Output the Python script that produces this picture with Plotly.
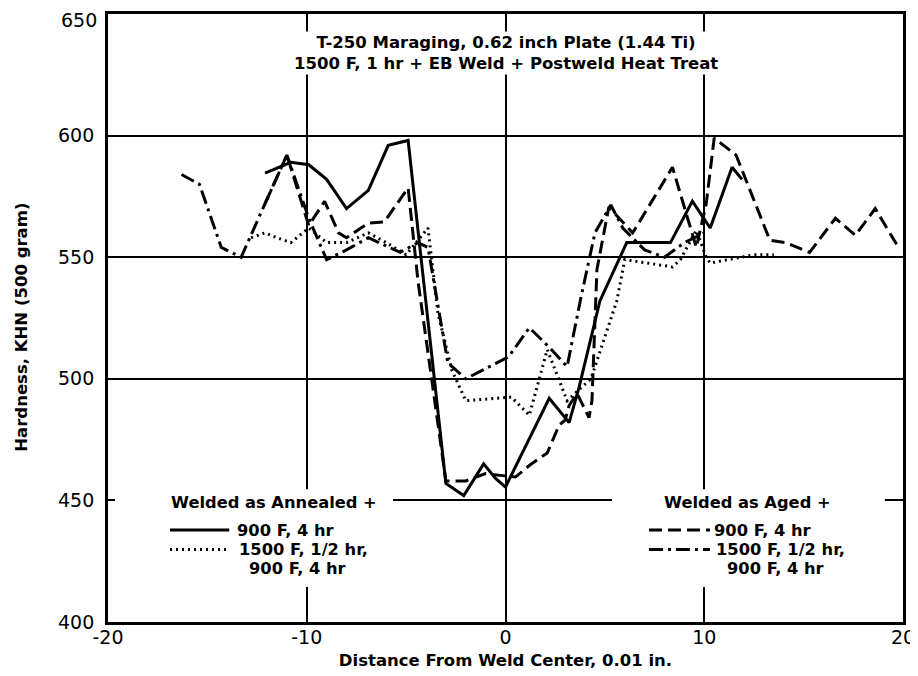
import plotly.graph_objects as go

# ---- data ----
ann900_x = [-12.1, -10.8, -9.9, -9.0, -8.0, -6.9, -5.9, -4.9, -3.0, -2.1, -1.1, -0.5, 0.0, 2.2, 3.2, 3.7, 4.75, 6.1, 8.3, 9.4, 10.3, 11.4, 11.9]
ann900_y = [584.6, 589, 588, 582, 570, 577.5, 596, 598, 457, 452, 465, 459, 455.5, 492, 482, 496.5, 532, 556, 556, 573, 562, 587, 582]

ann1500_x = [-12.8, -12.1, -11.5, -10.8, -9.9, -9.0, -8.0, -6.9, -6.0, -5.0, -3.9, -3.4, -2.7, -2.0, 0.3, 1.2, 2.1, 3.1, 4.3, 5.6, 6.0, 8.4, 8.8, 9.6, 10.1, 10.3, 12.5, 13.5]
ann1500_y = [558, 560, 558, 556, 562, 556, 556, 560, 556, 551, 562, 527, 503.6, 491, 492.5, 485, 512, 491, 500, 532, 549, 546, 549, 561, 550, 547.6, 551, 551]

aged900_x = [-12.1, -11.0, -9.9, -9.1, -8.4, -8.0, -6.9, -6.1, -4.9, -4.4, -3.0, -2.0, -1.0, 0.5, 1.3, 2.1, 2.7, 3.0, 3.2, 3.6, 4.2, 4.35, 4.6, 5.2, 6.4, 8.4, 9.2, 9.6, 10.1, 10.5, 11.6, 13.3, 14.1, 15.3, 16.6, 17.6, 18.6, 19.7]
aged900_y = [572, 592, 563, 573, 560, 558, 564, 564.5, 578.5, 540, 458, 458, 461, 459.6, 465, 469.5, 481, 483, 489, 494, 484, 491, 545, 570.6, 560, 587, 565, 554, 572, 599, 592, 557, 556, 552, 566, 559, 570, 555]

aged1500_x = [-16.3, -15.4, -14.3, -13.3, -12.1, -11.0, -9.9, -9.0, -8.0, -6.9, -5.3, -4.4, -3.9, -2.9, -2.0, 0.15, 1.2, 2.2, 3.1, 3.8, 4.5, 5.3, 5.9, 7.0, 8.0, 9.0, 10.0]
aged1500_y = [584, 580, 554, 550, 572, 592, 566, 549, 553, 558, 552, 556, 554, 506.5, 500, 509, 521, 513, 505, 533.6, 560, 571.5, 562, 553, 550, 556, 560]

x_ticks = [-20, -10, 0, 10, 20]
y_ticks = [400, 450, 500, 550, 600, 650]

title_lines = ["T-250 Maraging, 0.62 inch Plate (1.44 Ti)", "1500 F, 1 hr + EB Weld + Postweld Heat Treat"]
x_title = "Distance From Weld Center, 0.01 in."
y_title = "Hardness, KHN (500 gram)"

DOT = "2px,4px"
DASH = "13px,6px"
DASHDOT = "14px,5px,3px,5px"

fig = go.Figure()
series = [
    (ann900_x, ann900_y, "solid", "Welded as Annealed + 900 F, 4 hr"),
    (ann1500_x, ann1500_y, DOT, "Welded as Annealed + 1500 F, 1/2 hr, 900 F, 4 hr"),
    (aged900_x, aged900_y, DASH, "Welded as Aged + 900 F, 4 hr"),
    (aged1500_x, aged1500_y, DASHDOT, "Welded as Aged + 1500 F, 1/2 hr, 900 F, 4 hr"),
]
for xs, ys, dash, name in series:
    fig.add_trace(go.Scatter(x=xs, y=ys, mode="lines", name=name,
                             line=dict(color="black", width=3, dash=dash),
                             showlegend=False, hoverinfo="x+y"))

# white boxes behind legends (interrupt gridlines)
for x0, x1 in [(-19.65, -5.66), (5.36, 19.09)]:
    fig.add_shape(type="rect", xref="x", yref="y", x0=x0, x1=x1, y0=414.4, y1=454.6,
                  fillcolor="white", line=dict(width=0), layer="between")

TXT = "DejaVu Sans, sans-serif"
# title
fig.add_annotation(x=0, y=634, xref="x", yref="y", text="<b>" + title_lines[0] + "<br>" + title_lines[1] + "</b>",
                   showarrow=False, font=dict(family=TXT, size=16.5, color="black"),
                   bgcolor="white", align="center", yanchor="middle", xanchor="center")

# y-axis title (placed as rotated text, slightly below the plot's centre as in the reference)
fig.add_annotation(x=0, xref="paper", xshift=-86, y=521, yref="y", text="<b>" + y_title + "</b>",
                   textangle=-90, showarrow=False, font=dict(family=TXT, size=16.5, color="black"),
                   xanchor="center", yanchor="middle")

# top y tick label drawn a few px lower so it is not cut by the page edge
top_tick = y_ticks[-1]
fig.add_annotation(x=0, xref="paper", xanchor="right", xshift=-9, y=top_tick, yref="y", yshift=-6,
                   text=str(top_tick), showarrow=False, font=dict(family=TXT, size=19, color="black"),
                   yanchor="middle")

# legends
LF = 16.3
def legend_block(xc, head, xs0, xs1, items):
    fig.add_annotation(x=xc, y=449.3, xref="x", yref="y", text="<b>" + head + "</b>", showarrow=False,
                       font=dict(family=TXT, size=LF, color="black"), xanchor="center", yanchor="middle")
    for dash, yv, txt, xt in items:
        if dash is not None:
            fig.add_shape(type="line", xref="x", yref="y", x0=xs0, x1=xs1, y0=yv, y1=yv,
                          line=dict(color="black", width=3, dash=dash))
        fig.add_annotation(x=xt, y=yv, xref="x", yref="y", text="<b>" + txt + "</b>", showarrow=False,
                           font=dict(family=TXT, size=LF, color="black"), xanchor="left", yanchor="middle")

legend_block(-11.65, "Welded as Annealed +", -16.88, -13.9,
             [("solid", 437.8, "900 F, 4 hr", -13.6), (DOT, 429.8, "1500 F, 1/2 hr,", -13.5), (None, 421.8, "900 F, 4 hr", -13.0)])
legend_block(12.18, "Welded as Aged +", 7.22, 10.29,
             [(DASH, 437.8, "900 F, 4 hr", 10.4), (DASHDOT, 429.8, "1500 F, 1/2 hr,", 10.5), (None, 421.8, "900 F, 4 hr", 11.05)])

# page has an 8px body margin, so the figure is sized/margined to land the plot at the reference's pixels
fig.update_layout(
    width=910, height=668,
    margin=dict(l=100, r=15, t=6, b=54),
    paper_bgcolor="white", plot_bgcolor="white",
    font=dict(family=TXT, color="black"),
    xaxis=dict(range=[-20, 20], tickvals=x_ticks, ticktext=[str(v) for v in x_ticks],
               showgrid=True, gridcolor="black", gridwidth=1.6, zeroline=False,
               showline=True, linecolor="black", linewidth=2.8, mirror=True, automargin=False,
               ticks="", tickfont=dict(family=TXT, size=19), ticklabelstandoff=-4,
               ticklabeloverflow="allow",
               title=dict(text="<b>" + x_title + "</b>", font=dict(family=TXT, size=16.5), standoff=8)),
    yaxis=dict(range=[400, 650], tickvals=y_ticks,
               ticktext=[str(v) if v != top_tick else "" for v in y_ticks],
               showgrid=True, gridcolor="black", gridwidth=1.6, zeroline=False,
               showline=True, linecolor="black", linewidth=2.8, mirror=True, automargin=False,
               ticks="", tickfont=dict(family=TXT, size=19), ticklabelstandoff=7,
               ticklabeloverflow="allow"),
)
fig.write_html("out.html")
